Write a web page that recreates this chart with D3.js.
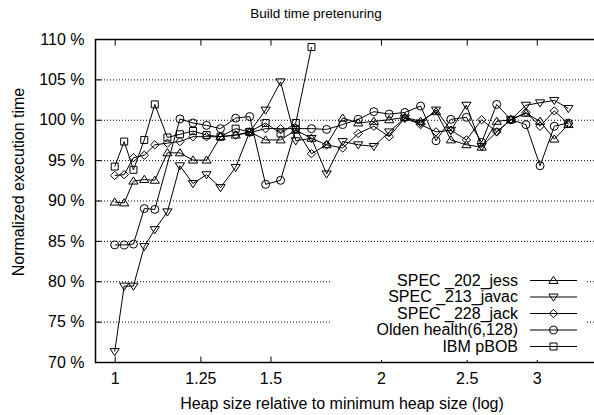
<!DOCTYPE html>
<html><head><meta charset="utf-8">
<script src="https://cdn.jsdelivr.net/npm/d3@7"></script>
<style>body{margin:0;background:#fff}svg{display:block}text{font-family:"Liberation Sans",Arial,sans-serif;fill:#000}</style>
</head><body><svg id="c" width="594" height="415"></svg>
<script>
const heapSizes = [1.0,1.025,1.05,1.08,1.11,1.147,1.185,1.226,1.27,1.317,1.37,1.421,1.481,1.54,1.602,1.669,1.736,1.81,1.885,1.963,2.043,2.128,2.217,2.308,2.399,2.498,2.599,2.703,2.805,2.917,3.026,3.14,3.257];
const jess  = [89.8,89.7,92.4,92.6,92.5,95.9,95.9,95.0,95.0,97.9,98.1,98.5,97.5,97.5,98.7,97.7,96.9,100.2,99.6,99.8,100.0,100.3,99.8,101.0,97.5,96.9,96.6,99.8,100.0,100.8,99.8,97.6,99.4];
const javac = [71.3,79.4,79.4,84.3,86.4,88.6,94.3,92.1,93.2,91.6,94.1,98.5,101.2,104.7,97.4,97.7,93.3,97.3,96.9,96.7,98.5,100.2,99.6,101.2,98.7,101.8,96.7,98.5,100.0,101.8,102.1,102.4,101.4];
const jack  = [93.1,93.2,95.3,95.6,96.9,97.1,97.3,97.9,97.9,97.9,98.1,98.4,98.9,98.9,98.9,95.8,96.9,96.5,98.3,99.2,97.9,100.2,99.4,98.5,98.7,97.5,100.0,98.5,100.0,100.9,99.2,101.1,99.5];
const olden = [84.5,84.5,84.6,89.0,88.9,null,100.1,99.6,99.3,98.9,100.2,100.4,92.0,92.5,98.9,98.9,98.8,99.4,100.05,101.0,100.7,100.9,101.7,97.4,100.05,100.3,97.2,101.9,100.0,99.4,94.3,99.2,99.6];
const pbob  = [94.2,97.3,93.8,97.5,101.9,97.8,98.2,98.6,98.1,97.9,98.9,98.5,99.6,98.3,99.6,109.0];
const seriesNames = ["SPEC _202_jess","SPEC _213_javac","SPEC _228_jack","Olden health(6,128)","IBM pBOB"];
const seriesMarkers = ["tri","itri","diamond","circle","square"];
const xTicks = [1,1.25,1.5,2,2.5,3];
const yTicks = [70,75,80,85,90,95,100,105,110];
const gridTicks = [75,80,85,90,95,100,105];

const FS = 16;
const svg = d3.select("#c");
svg.append("rect").attr("width",594).attr("height",415).attr("fill","#fff");
const L=95,R=596,T=39,B=362;
const x = d3.scaleLog().domain([0.95,3.5]).range([L,R]);
const y = d3.scaleLinear().domain([70,110]).range([B,T]);

// grid
svg.append("g").selectAll("line").data(gridTicks).join("line")
  .attr("x1",L).attr("x2",R).attr("y1",d=>y(d)+0.5).attr("y2",d=>y(d)+0.5)
  .attr("stroke","#000").attr("stroke-width",1).attr("stroke-dasharray","1,2");

// axes
const fmtY = d=>d+" %";
const ax = svg.append("g").attr("class","axes");
const yAxis = d3.axisLeft(y).tickValues(yTicks).tickFormat(fmtY).tickSizeInner(-6).tickSizeOuter(0).tickPadding(11);
ax.append("g").attr("transform",`translate(${L+0.5},0)`).call(yAxis);
const xAxis = d3.axisBottom(x).tickValues(xTicks).tickFormat(d3.format("")).tickSizeInner(-6).tickSizeOuter(0).tickPadding(10);
ax.append("g").attr("transform",`translate(0,${B+0.5})`).call(xAxis);
const xTop = d3.axisTop(x).tickValues(xTicks).tickFormat("").tickSizeInner(-6).tickSizeOuter(0);
ax.append("g").attr("transform",`translate(0,${T+0.5})`).call(xTop);
ax.selectAll(".domain").remove();
ax.selectAll("text").attr("font-size",FS).attr("fill","#000").attr("font-family","Liberation Sans, Arial, sans-serif");
ax.selectAll("line").attr("stroke","#000");
svg.append("rect").attr("x",L+0.5).attr("y",T+0.5).attr("width",R-L).attr("height",B-T)
  .attr("fill","none").attr("stroke","#000").attr("stroke-width",1.5);

// legend background (opaque key)
svg.append("rect").attr("x",330).attr("y",268).attr("width",256).attr("height",92).attr("fill","#fff");

function markerPath(type,cx,cy){
  const s=4.2;
  switch(type){
    case "tri": return `M${cx},${cy-s}L${cx+s*1.1},${cy+s*0.7}L${cx-s*1.1},${cy+s*0.7}Z`;
    case "itri": return `M${cx},${cy+s}L${cx+s*1.1},${cy-s*0.7}L${cx-s*1.1},${cy-s*0.7}Z`;
    case "diamond": return `M${cx},${cy-s}L${cx+s},${cy}L${cx},${cy+s}L${cx-s},${cy}Z`;
    case "square": return `M${cx-3.5},${cy-3.5}h7v7h-7Z`;
    case "circle": return `M${cx-4},${cy}a4,4 0 1,0 8,0a4,4 0 1,0 -8,0Z`;
  }
}
const allSeries=[jess,javac,jack,olden,pbob];
const line = d3.line().defined(d=>d[1]!=null).x(d=>x(d[0])).y(d=>y(d[1]));
const plot = svg.append("g");
allSeries.forEach((vals,i)=>{
  const pts = vals.map((v,j)=>[heapSizes[j],v]).filter(d=>d[1]!=null);
  plot.append("path").attr("d",line(pts)).attr("fill","none").attr("stroke","#000").attr("stroke-width",1);
  plot.append("g").selectAll("path").data(pts).join("path")
    .attr("d",d=>markerPath(seriesMarkers[i],x(d[0]),y(d[1])))
    .attr("fill","none").attr("stroke","#000").attr("stroke-width",1);
});

// legend
const lg = svg.append("g");
seriesNames.forEach((n,i)=>{
  const ly = 280 + i*16.5;
  lg.append("text").attr("x",518).attr("y",ly).attr("dy","0.35em").attr("text-anchor","end").attr("font-size",FS).text(n);
  lg.append("line").attr("x1",530).attr("x2",577).attr("y1",ly+0.5).attr("y2",ly+0.5).attr("stroke","#000");
  lg.append("path").attr("d",markerPath(seriesMarkers[i],553.5,ly+0.5)).attr("fill","none").attr("stroke","#000");
});

// titles
svg.append("text").attr("x",316).attr("y",13).attr("dy","0.35em").attr("text-anchor","middle").attr("font-size",13.5).text("Build time pretenuring");
svg.append("text").attr("x",342).attr("y",403).attr("dy","0.35em").attr("text-anchor","middle").attr("font-size",FS).text("Heap size relative to minimum heap size (log)");
svg.append("text").attr("transform","translate(18,182) rotate(-90)").attr("dy","0.35em").attr("text-anchor","middle").attr("font-size",FS).text("Normalized execution time");
</script></body></html>
